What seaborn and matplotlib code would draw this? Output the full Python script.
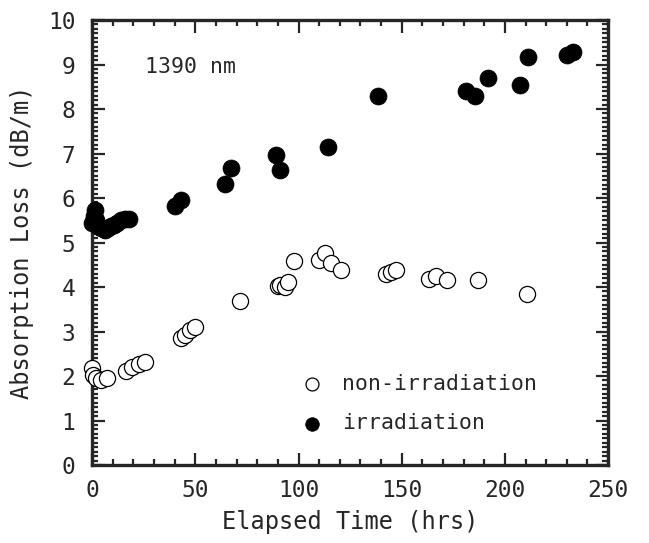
import matplotlib
matplotlib.use("Agg")
import matplotlib.pyplot as plt
import seaborn as sns
import pandas as pd
from matplotlib.ticker import MultipleLocator

# ---- data ----
irr_time = [0, 1, 1.5, 2, 3, 4.5, 6, 7.5, 9, 10.5, 12, 14, 16, 18,
            40, 43, 64.4, 67.3, 89.3, 91.2, 114.1, 138.5, 181, 185.4,
            191.7, 207.3, 211.2, 230.2, 233.2]
irr_loss = [5.45, 5.6, 5.72, 5.5, 5.38, 5.32, 5.28, 5.33, 5.38, 5.4, 5.45, 5.5, 5.52, 5.52,
            5.82, 5.96, 6.31, 6.68, 6.97, 6.63, 7.15, 8.29, 8.40, 8.29,
            8.70, 8.54, 9.17, 9.21, 9.28]

non_time = [0, 0.5, 2, 4.5, 7, 16.5, 19.5, 22.5, 25.5, 43, 44.8, 47.2, 49.8, 71.7,
            90, 91.2, 93.2, 95, 98, 109.8, 113, 115.6, 120.5, 142.4, 144.9, 147.3,
            163.4, 166.8, 171.7, 186.8, 210.7]
non_loss = [2.18, 2.02, 1.95, 1.9, 1.96, 2.11, 2.2, 2.27, 2.31, 2.85, 2.92, 3.03, 3.1, 3.69,
            4.02, 4.04, 3.99, 4.12, 4.58, 4.61, 4.77, 4.55, 4.38, 4.29, 4.34, 4.38,
            4.18, 4.25, 4.16, 4.16, 3.84]

x_label = "Elapsed Time (hrs)"
y_label = "Absorption Loss (dB/m)"
annotation = "1390 nm"

sns.set_theme(style="ticks")
plt.rcParams['font.family'] = ['DejaVu Sans Mono', 'DejaVu Sans']

fig = plt.figure(figsize=(6.49, 5.43), dpi=100)
ax = fig.add_axes([0.142, 0.1436, 0.795, 0.8195])

df_non = pd.DataFrame({"t": non_time, "loss": non_loss})
df_irr = pd.DataFrame({"t": irr_time, "loss": irr_loss})

sns.scatterplot(data=df_non, x="t", y="loss", ax=ax, s=135, marker="o",
                facecolor="white", edgecolor="black", linewidth=0.9,
                label="non-irradiation", zorder=3, clip_on=False)
sns.scatterplot(data=df_irr, x="t", y="loss", ax=ax, s=150, marker="o",
                color="black", edgecolor="black", linewidth=0.5,
                label="irradiation", zorder=4, clip_on=False)

ax.set_xlim(0, 250)
ax.set_ylim(0, 10)
ax.xaxis.set_major_locator(MultipleLocator(50))
ax.xaxis.set_minor_locator(MultipleLocator(10))
ax.yaxis.set_major_locator(MultipleLocator(1))
ax.yaxis.set_minor_locator(MultipleLocator(0.1))
ax.tick_params(which="both", direction="in", top=True, right=True, width=1.6,
               labelsize=16.5)
ax.tick_params(axis="x", which="both", pad=10)
ax.tick_params(axis="y", which="both", pad=12)
ax.tick_params(which="major", length=9)
ax.tick_params(which="minor", length=4.5)
for sp in ax.spines.values():
    sp.set_linewidth(2.4)

ax.set_xlabel(x_label, fontsize=17, labelpad=6)
ax.set_ylabel(y_label, fontsize=17, labelpad=10)
ax.text(25.5, 8.95, annotation, fontsize=15.5, va="center", ha="left")

leg = ax.legend(loc="upper left", bbox_to_anchor=(0.405, 0.205), frameon=False,
                fontsize=15.5, handlelength=1.0, handletextpad=0.9,
                labelspacing=0.9, borderpad=0, borderaxespad=0,
                markerscale=0.8)

fig.savefig("out.png", dpi=100)
